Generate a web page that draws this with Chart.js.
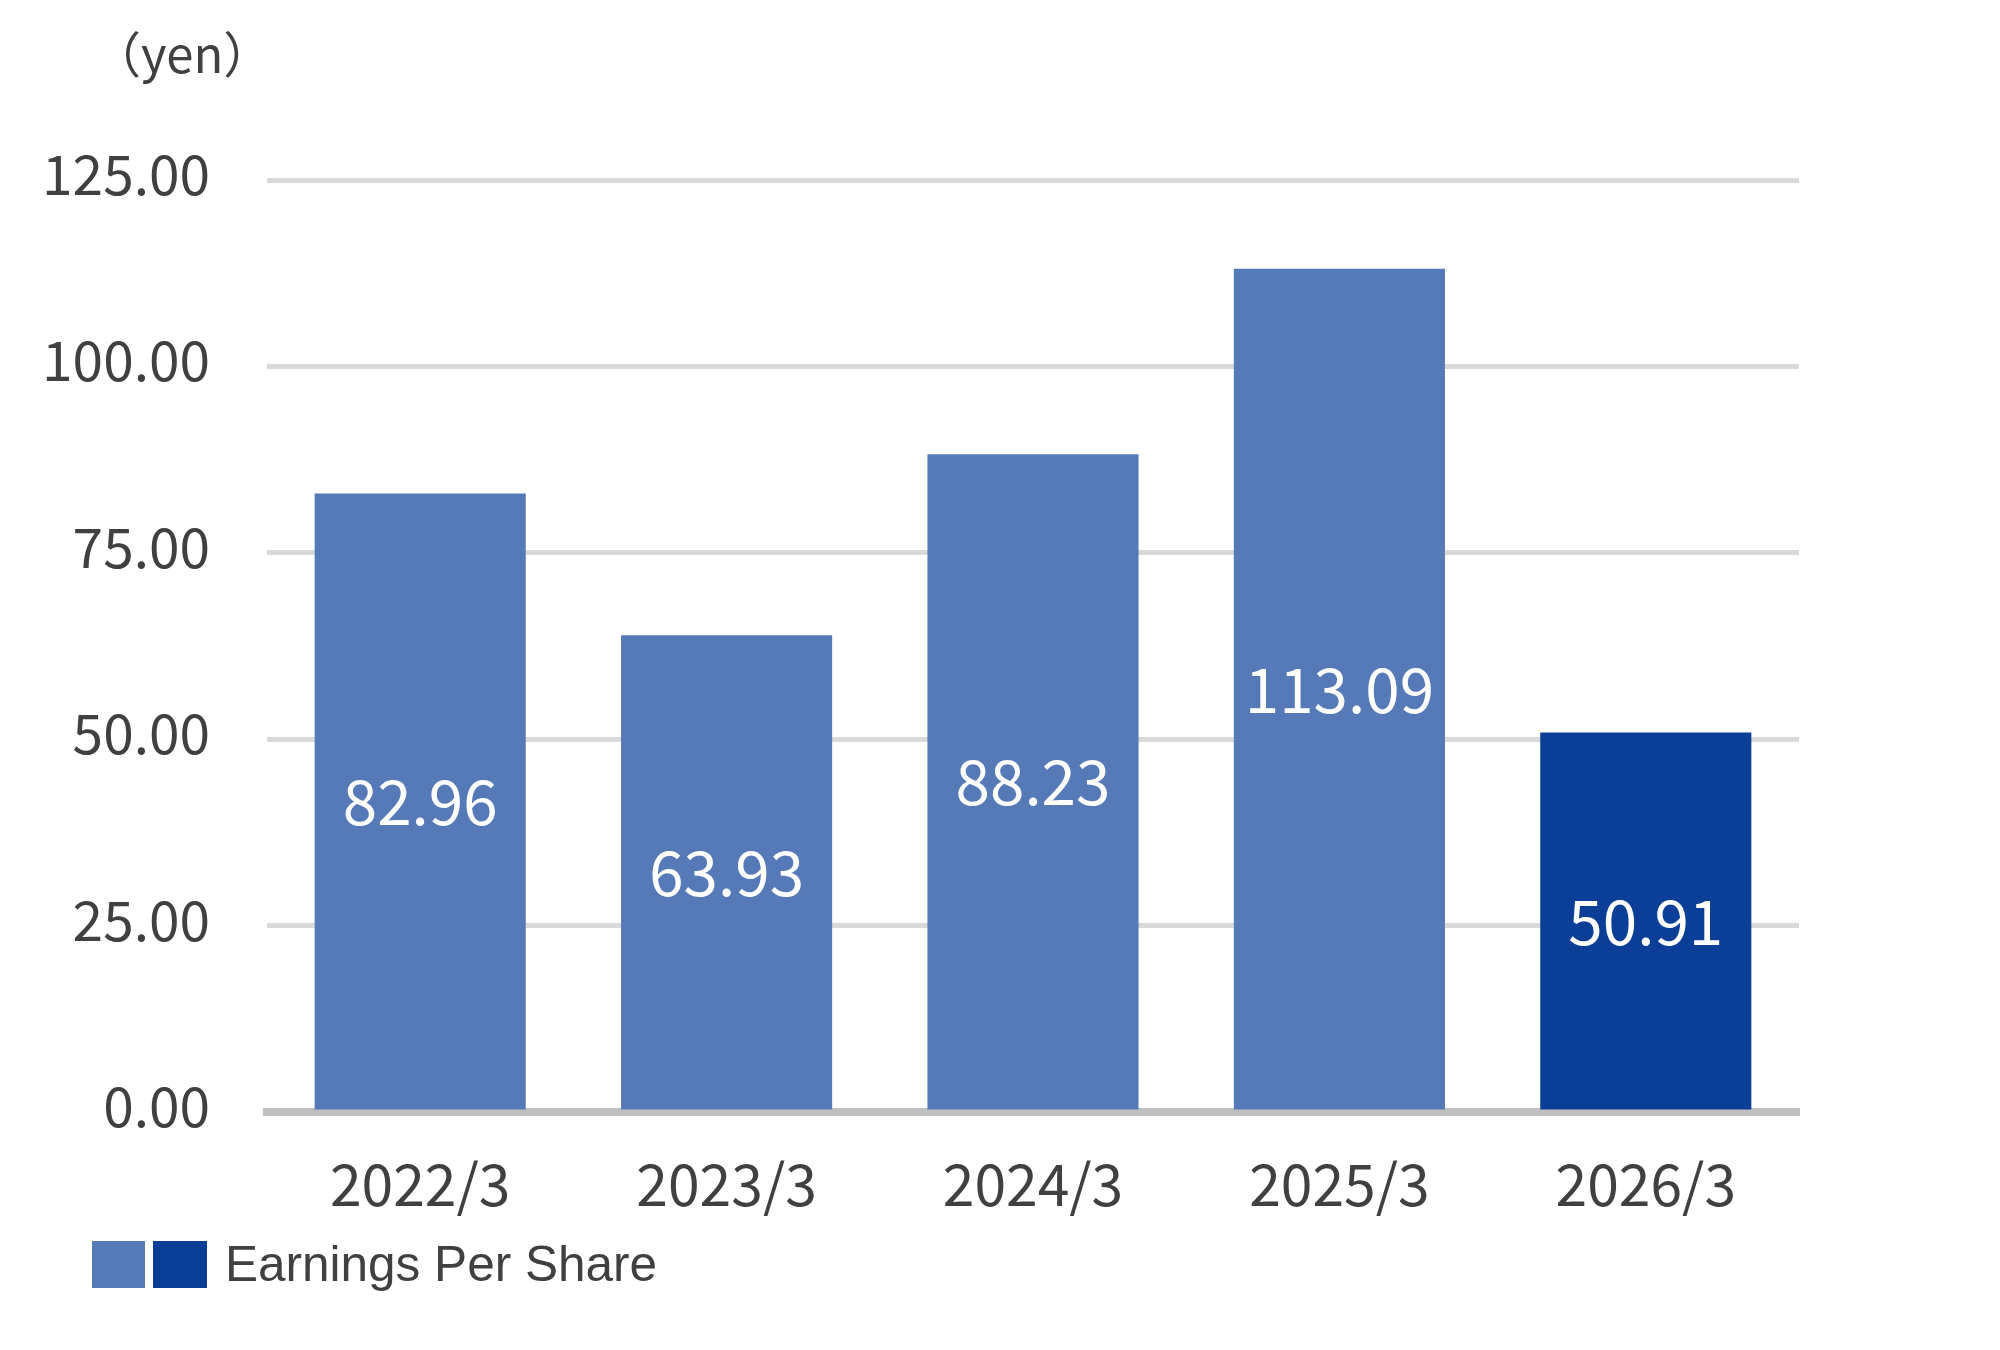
<!DOCTYPE html>
<html>
<head>
<meta charset="utf-8">
<script src="https://cdn.jsdelivr.net/npm/chart.js@4.4.3/dist/chart.umd.min.js"></script>
<style>
  html, body { margin: 0; padding: 0; background: #fff; }
  #wrap { width: 2000px; height: 1350px; position: relative; }
</style>
</head>
<body>
<div id="wrap"><canvas id="eps" width="2000" height="1350"></canvas></div>
<script>
// chart values
const periods = ['2022/3', '2023/3', '2024/3', '2025/3', '2026/3'];
const eps = [82.96, 63.93, 88.23, 113.09, 50.91];
const barColors = ['#5679B7', '#5679B7', '#5679B7', '#5679B7', '#0B3F97'];
const yTicks = [0, 25, 50, 75, 100, 125];
const unitLabel = '（yen）';
const legendLabel = 'Earnings Per Share';

const textColor = '#404040';
const numFont = '"Noto Sans CJK JP", "Noto Sans", sans-serif';

// white value labels in the middle of each bar, plus the unit and legend
const extras = {
  id: 'extras',
  afterDatasetsDraw(chart) {
    const ctx = chart.ctx;
    const meta = chart.getDatasetMeta(0);
    ctx.save();
    ctx.fillStyle = '#ffffff';
    ctx.font = '62px ' + numFont;
    ctx.textAlign = 'center';
    ctx.textBaseline = 'middle';
    meta.data.forEach((bar, i) => {
      const mid = (bar.y + bar.base) / 2;
      ctx.fillText(eps[i].toFixed(2), bar.x, mid);
    });
    ctx.restore();
  },
  afterDraw(chart) {
    const ctx = chart.ctx;
    ctx.save();
    // unit
    ctx.fillStyle = textColor;
    ctx.font = '49px ' + numFont;
    ctx.textAlign = 'left';
    ctx.textBaseline = 'middle';
    ctx.fillText(unitLabel, 92, 54);

    // legend: two swatches then the label
    ctx.fillStyle = '#5679B7';
    ctx.fillRect(92, 1241, 53, 47);
    ctx.fillStyle = '#0B3F97';
    ctx.fillRect(153, 1241, 54, 47);
    ctx.fillStyle = textColor;
    ctx.font = '49.5px "Liberation Sans", Arial, sans-serif';
    ctx.textBaseline = 'middle';
    ctx.fillText(legendLabel, 225, 1267);
    ctx.restore();
  }
};

new Chart(document.getElementById('eps'), {
  type: 'bar',
  data: {
    labels: periods,
    datasets: [{
      label: legendLabel,
      data: eps,
      backgroundColor: barColors,
      borderWidth: 0,
      categoryPercentage: 1.0,
      barPercentage: 0.689
    }]
  },
  options: {
    responsive: false,
    animation: false,
    events: [],
    layout: { padding: { left: 0, right: 201, top: 180, bottom: 0 } },
    plugins: {
      legend: { display: false },
      tooltip: { enabled: false }
    },
    scales: {
      x: {
        z: 1,
        grid: { display: false, drawTicks: false },
        border: { display: true, color: '#BFBFBF', width: 8 },
        ticks: {
          color: textColor,
          font: { family: numFont, size: 57 },
          padding: 38,
          maxRotation: 0
        },
        afterFit(scale) { scale.height = 238; }
      },
      y: {
        min: 0,
        max: 125,
        afterBuildTicks(scale) { scale.ticks = yTicks.map(v => ({ value: v })); },
        grid: { color: '#D9D9D9', lineWidth: 5, drawTicks: false },
        border: { display: false },
        ticks: {
          color: textColor,
          font: { family: numFont, size: 55 },
          padding: 57,
          labelOffset: -6,
          callback: v => Number(v).toFixed(2)
        },
        afterFit(scale) { scale.width = 267; }
      }
    }
  },
  plugins: [extras]
});
</script>
</body>
</html>
